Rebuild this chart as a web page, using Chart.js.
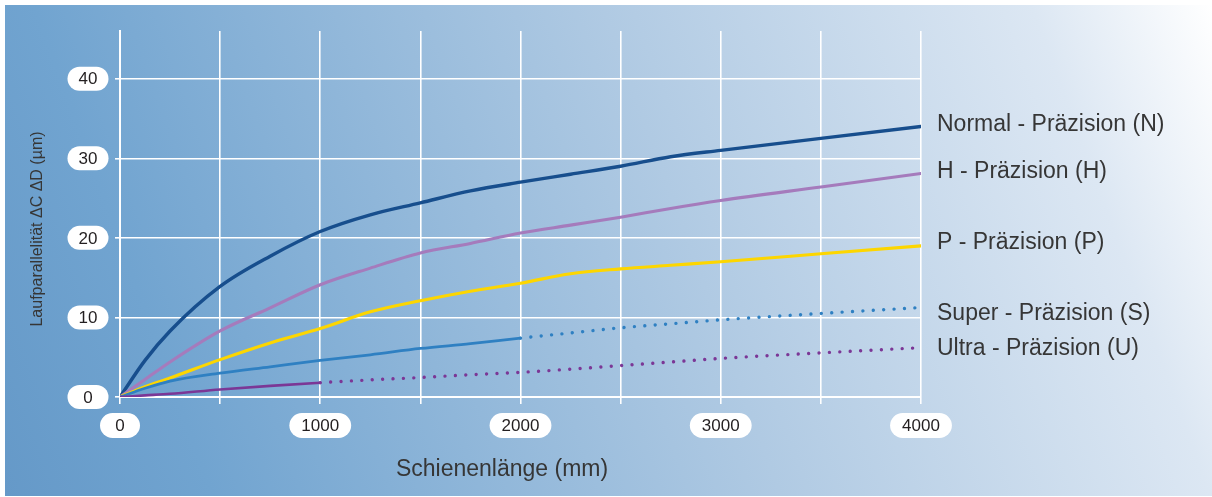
<!DOCTYPE html>
<html>
<head>
<meta charset="utf-8">
<script src="https://cdn.jsdelivr.net/npm/chart.js@4.4.1/dist/chart.umd.min.js"></script>
<style>
  html, body { margin: 0; padding: 0; background: #fff; }
  #wrap { position: relative; width: 1212px; height: 497px; background: #fff; overflow: hidden; }
  #panel {
    position: absolute; left: 5px; top: 5px; right: 0; bottom: 1px;
    background: linear-gradient(70deg, #6599c8 0%, #71a4d0 15%, #b0cae3 56%, #dce7f3 87%, #ffffff 100%);
  }
  #chart { position: absolute; left: 0; top: 0; }
</style>
</head>
<body>
<div id="wrap">
  <div id="panel"></div>
  <canvas id="chart" width="1212" height="497"></canvas>
</div>
<script>
// Rail length (mm) and running parallelism (µm) per accuracy class
const lengths = [0, 125, 250, 500, 750, 1000, 1250, 1500, 1750, 2000, 2250, 2500, 2750, 3000, 3500, 4000];
const normalN = [0, 4.6, 8.3, 13.9, 17.7, 20.8, 22.9, 24.4, 25.9, 27.0, 28.0, 29.0, 30.2, 31.0, 32.5, 34.0];
const highH   = [0, 2.2, 4.4, 8.3, 11.2, 14.1, 16.2, 18.1, 19.3, 20.6, 21.6, 22.6, 23.7, 24.7, 26.4, 28.1];
const precP   = [0, 1.3, 2.4, 4.7, 6.8, 8.6, 10.7, 12.1, 13.3, 14.3, 15.5, 16.1, 16.55, 17.0, 18.0, 19.0];
const superS  = [0, 1.1, 2.0, 3.0, 3.8, 4.6, 5.3, 6.1, 6.7, 7.4, 8.05, 8.7, 9.2, 9.7, 10.5, 11.25];
const ultraU  = [0, 0.2, 0.4, 0.95, 1.4, 1.8, 2.15, 2.45, 2.8, 3.1, 3.5, 3.95, 4.4, 4.85, 5.55, 6.2];

const seriesNames = ['Normal - Präzision (N)', 'H - Präzision (H)', 'P - Präzision (P)', 'Super - Präzision (S)', 'Ultra - Präzision (U)'];
const seriesValues = [normalN, highH, precP, superS, ultraU];
const solidUntil = [4000, 4000, 4000, 2000, 1000]; // beyond this length the curve is dotted
const seriesColors = ['#174e8d', '#a57bbc', '#fdd600', '#2f80c2', '#7b3796'];
const seriesWidths = [3.4, 3.1, 3.1, 2.8, 2.6];

const xTitle = 'Schienenlänge (mm)';
const yTitle = 'Laufparallelität ΔC ΔD (µm)';

// label baselines next to the line ends
const labelBaselines = [131, 178, 249, 320, 355];

const FONT = '"Liberation Sans", Arial, Helvetica, sans-serif';

function roundPill(ctx, cx, cy, w, h) {
  const r = h / 2, x = cx - w / 2, y = cy - h / 2;
  ctx.beginPath();
  ctx.moveTo(x + r, y);
  ctx.lineTo(x + w - r, y);
  ctx.arc(x + w - r, cy, r, -Math.PI / 2, Math.PI / 2);
  ctx.lineTo(x + r, y + h);
  ctx.arc(x + r, cy, r, Math.PI / 2, Math.PI * 1.5);
  ctx.closePath();
  ctx.fill();
}

const decorations = {
  id: 'decorations',
  afterDraw(chart) {
    const { ctx, scales: { x, y } } = chart;
    ctx.save();

    // tick labels in white pills
    ctx.font = '17px ' + FONT;
    ctx.textAlign = 'center';
    ctx.textBaseline = 'middle';
    y.ticks.forEach(t => {
      const py = y.getPixelForValue(t.value);
      ctx.fillStyle = '#ffffff';
      roundPill(ctx, 88, py, 41, 24);
      ctx.fillStyle = '#231f20';
      ctx.fillText(String(t.value), 88, py + 1);
    });
    x.ticks.filter(t => t.value % 1000 === 0).forEach(t => {
      const px = x.getPixelForValue(t.value);
      const label = String(t.value);
      const w = Math.max(40, ctx.measureText(label).width + 24);
      ctx.fillStyle = '#ffffff';
      roundPill(ctx, px, 425.5, w, 25);
      ctx.fillStyle = '#231f20';
      ctx.fillText(label, px, 426.5);
    });

    // series labels
    ctx.font = '23px ' + FONT;
    ctx.textAlign = 'left';
    ctx.textBaseline = 'alphabetic';
    ctx.fillStyle = '#363636';
    seriesNames.forEach((name, i) => ctx.fillText(name, 937, labelBaselines[i]));

    // axis titles
    ctx.textAlign = 'center';
    ctx.fillText(xTitle, 502, 476);
    ctx.font = '16px ' + FONT;
    ctx.translate(38, 229);
    ctx.rotate(-Math.PI / 2);
    ctx.textBaseline = 'middle';
    ctx.fillText(yTitle, 0, 0);
    ctx.restore();
  }
};

const datasets = seriesNames.map((name, i) => ({
  label: name,
  data: lengths.map((len, j) => ({ x: len, y: seriesValues[i][j] })),
  borderColor: seriesColors[i],
  borderWidth: seriesWidths[i],
  borderCapStyle: 'round',
  borderJoinStyle: 'round',
  pointRadius: 0,
  cubicInterpolationMode: 'monotone',
  fill: false,
  segment: {
    borderDash: ctx => ctx.p0.parsed.x >= solidUntil[i] ? [0.01, 10.4] : undefined,
    borderWidth: ctx => ctx.p0.parsed.x >= solidUntil[i] ? 3.4 : undefined
  }
})).reverse();

new Chart(document.getElementById('chart'), {
  type: 'line',
  data: { datasets },
  options: {
    responsive: false,
    animation: false,
    layout: { padding: { left: 0, top: 31, right: 291, bottom: 0 } },
    plugins: { legend: { display: false }, tooltip: { enabled: false } },
    scales: {
      x: {
        type: 'linear',
        min: 0,
        max: 4000,
        ticks: { display: false, stepSize: 500 },
        grid: { color: '#ffffff', lineWidth: 1.6, tickLength: 7 },
        border: { color: '#ffffff', width: 2 },
        afterFit: s => { s.height = 100; }
      },
      y: {
        min: 0,
        max: 46,
        ticks: { display: false, stepSize: 10, includeBounds: false },
        grid: { color: '#ffffff', lineWidth: 1.6, tickLength: 5 },
        border: { color: '#ffffff', width: 2 },
        afterFit: s => { s.width = 120; }
      }
    }
  },
  plugins: [decorations]
});
</script>
</body>
</html>
